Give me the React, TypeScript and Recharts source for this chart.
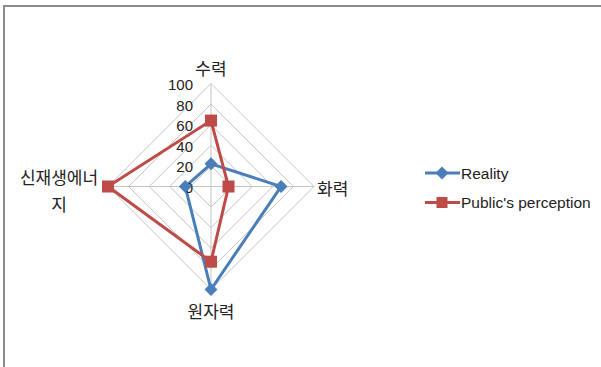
import { RadarChart, Radar, PolarGrid, PolarAngleAxis, PolarRadiusAxis, Legend } from 'recharts';

// categories, clockwise from the top
const categories = ['수력', '화력', '원자력', '신재생에너지'];
const reality = [22, 68, 100, 25];
const perception = [64, 17, 73, 100];
const radiusTicks = [0, 20, 40, 60, 80, 100];

const seriesNames = ['Reality', "Public's perception"];
const BLUE = '#4a7ebb';
const RED = '#be4b48';

const data = categories.map((name, i) => ({
  name,
  reality: reality[i],
  perception: perception[i],
}));

const KO_FONT = '"Noto Sans CJK KR", sans-serif';
const EN_FONT = '"Liberation Sans", Arial, sans-serif';

const diamond = (p: any) => (
  <polygon
    key={`d-${p.index}`}
    points={`${p.cx},${p.cy - 6.5} ${p.cx + 6.5},${p.cy} ${p.cx},${p.cy + 6.5} ${p.cx - 6.5},${p.cy}`}
    fill={BLUE}
  />
);

const square = (p: any) => (
  <rect key={`s-${p.index}`} x={p.cx - 6} y={p.cy - 6} width={12} height={12} fill={RED} />
);

// category labels, placed relative to the tick point recharts gives us
const AngleTick = (props: any) => {
  const { x, y, payload } = props;
  const v = payload.value as string;
  const common = { fontFamily: KO_FONT, fontSize: 17, fill: '#222' };
  if (v === '수력') {
    return <text x={x} y={y - 8} textAnchor="middle" dominantBaseline="central" {...common}>{v}</text>;
  }
  if (v === '화력') {
    return <text x={x - 5} y={y + 1} textAnchor="start" dominantBaseline="central" {...common}>{v}</text>;
  }
  if (v === '원자력') {
    return <text x={x} y={y + 13} textAnchor="middle" dominantBaseline="central" {...common}>{v}</text>;
  }
  // long label wraps onto a second line
  return (
    <text textAnchor="middle" dominantBaseline="central" {...common}>
      <tspan x={x - 41} y={y - 11}>{v.slice(0, 5)}</tspan>
      <tspan x={x - 41} y={y + 16}>{v.slice(5)}</tspan>
    </text>
  );
};

const RadiusTick = (props: any) => {
  const { x, y, payload } = props;
  return (
    <text
      x={x - 18}
      y={y + 1}
      textAnchor="end"
      dominantBaseline="central"
      fontFamily={EN_FONT}
      fontSize={15}
      fill="#222"
    >
      {payload.value}
    </text>
  );
};

const renderLegend = () => (
  <svg width={180} height={60}>
    {seriesNames.map((name, i) => {
      const y = 13 + i * 29.5;
      const color = i === 0 ? BLUE : RED;
      return (
        <g key={name}>
          <line x1={1} x2={36} y1={y} y2={y} stroke={color} strokeWidth={3} />
          {i === 0
            ? diamond({ cx: 18, cy: y, index: 'l' })
            : <rect x={12.5} y={y - 5.5} width={11} height={11} fill={RED} />}
          <text x={37} y={y} dominantBaseline="central" fontFamily={EN_FONT} fontSize={15.5} fill="#222">
            {name}
          </text>
        </g>
      );
    })}
  </svg>
);

export default function App() {
  return (
    <div style={{ position: 'absolute', left: 0, top: 0, width: 601, height: 367, background: '#fff', overflow: 'hidden' }}>
      <div
        style={{
          position: 'absolute',
          left: 3,
          top: 5,
          width: 596,
          height: 360,
          borderTop: '2px solid #8c8c8c',
          borderLeft: '2px solid #8c8c8c',
        }}
      />
      <div style={{ position: 'absolute', left: 0, top: 0 }}>
        <RadarChart
          width={601}
          height={367}
          data={data}
          cx={211}
          cy={186.5}
          outerRadius={103}
          margin={{ top: 0, right: 0, bottom: 0, left: 0 }}
        >
          <PolarGrid gridType="polygon" stroke="#c4c4c4" strokeWidth={1} />
          <PolarAngleAxis dataKey="name" tick={AngleTick} tickLine={false} axisLine={false} />
          <PolarRadiusAxis
            angle={90}
            domain={[0, 100]}
            ticks={radiusTicks}
            tick={RadiusTick}
            axisLine={false}
            tickLine={false}
          />
          <Radar
            name={seriesNames[0]}
            dataKey="reality"
            stroke={BLUE}
            strokeWidth={3}
            fill="none"
            fillOpacity={0}
            dot={diamond}
            isAnimationActive={false}
          />
          <Radar
            name={seriesNames[1]}
            dataKey="perception"
            stroke={RED}
            strokeWidth={3}
            fill="none"
            fillOpacity={0}
            dot={square}
            isAnimationActive={false}
          />
          <Legend
            content={renderLegend}
            wrapperStyle={{ position: 'absolute', left: 424, top: 160, width: 180, height: 60 }}
          />
        </RadarChart>
      </div>
    </div>
  );
}
